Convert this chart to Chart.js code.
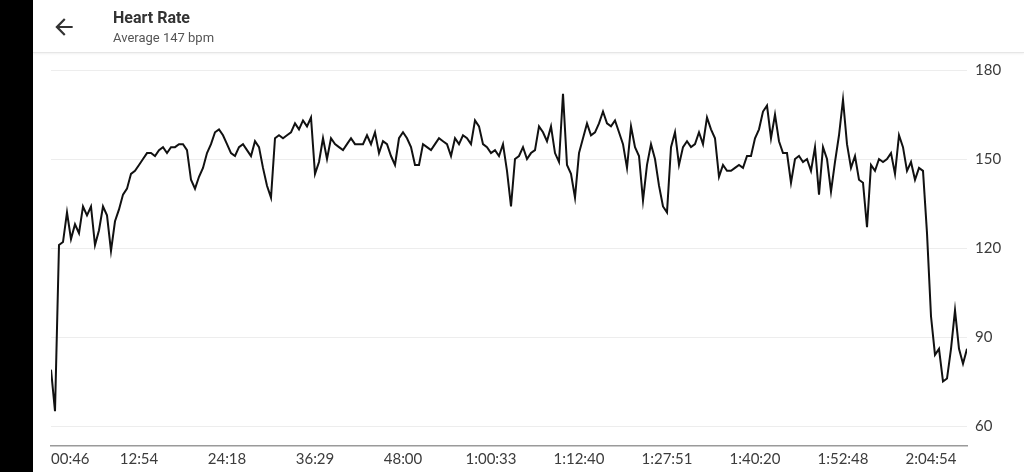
<!DOCTYPE html>
<html>
<head>
<meta charset="utf-8">
<script src="https://cdn.jsdelivr.net/npm/chart.js@4/dist/chart.umd.min.js"></script>
<style>
  html, body { margin: 0; padding: 0; background: #fff; }
  body { width: 1024px; height: 472px; position: relative; overflow: hidden; font-family: Roboto, sans-serif; }
  #barra { position: absolute; left: 0; top: 0; width: 33px; height: 472px; background: #000; z-index: 3; }
  #encabezado { position: absolute; left: 33px; top: 0; width: 991px; height: 52px; background: #fff;
    border-bottom: 1px solid #e6e6e6; box-shadow: 0 1px 2px rgba(0,0,0,0.06); z-index: 2; }
  #flecha { position: absolute; left: 18px; top: 14px; width: 26px; height: 26px; }
  #titulo { position: absolute; left: 80px; top: 8px; font-size: 16px; font-weight: bold; color: #333; }
  #subtitulo { position: absolute; left: 80px; top: 30px; font-size: 13px; color: #555; }
  #contenedor { position: absolute; left: 0; top: 0; width: 1024px; height: 472px; z-index: 1; }
</style>
</head>
<body>
<div id="barra"></div>
<div id="encabezado">
  <svg id="flecha" viewBox="0 0 24 24"><path fill="#333" d="M20 11H7.83l5.590-5.59L12 4l-8 8 8 8 1.41-1.41L7.83 13H20v-2z"/></svg>
  <div id="titulo">Heart Rate</div>
  <div id="subtitulo">Average 147 bpm</div>
</div>
<div id="contenedor"><canvas id="graficoPulso"></canvas></div>
<script>
// etiquetas del eje X (una cada 22 muestras)
var etiquetasTiempo = ['00:46', '12:54', '24:18', '36:29', '48:00', '1:00:33', '1:12:40', '1:27:51', '1:40:20', '1:52:48', '2:04:54'];
var pasoEtiqueta = 22;

// ticks del eje Y
var ticksPulso = [60, 90, 120, 150, 180];

// pulso (bpm), una muestra por paso
var pulso = [
  79, 65, 121, 122, 132, 123, 128, 125, 134, 131,
  134, 121, 126, 134, 131, 119, 129, 133, 138, 140,
  145, 146, 148, 150, 152, 152, 151, 153, 154, 152,
  154, 154, 155, 155, 153, 143, 140, 144, 147, 152,
  155, 159, 160, 158, 155, 152, 151, 154, 155, 153,
  151, 156, 154, 147, 141, 137, 157, 158, 157, 158,
  159, 162, 160, 163, 161, 164, 145, 149, 157, 150,
  157, 155, 154, 153, 155, 157, 155, 155, 155, 158,
  155, 159, 152, 156, 155, 151, 148, 157, 159, 157,
  154, 148, 148, 155, 154, 153, 155, 157, 156, 155,
  151, 157, 155, 158, 157, 155, 163, 161, 155, 154,
  152, 153, 151, 155, 146, 134, 150, 151, 154, 150,
  152, 153, 161, 159, 156, 161, 152, 149, 172, 148,
  145, 137, 152, 157, 162, 158, 159, 162, 166, 162,
  161, 163, 159, 155, 147, 161, 154, 151, 136, 148,
  155, 150, 141, 134, 132, 154, 159, 148, 154, 156,
  154, 155, 159, 155, 164, 160, 157, 144, 148, 146,
  146, 147, 148, 147, 151, 151, 157, 160, 166, 168,
  157, 165, 156, 152, 152, 142, 150, 151, 149, 150,
  146, 154, 138, 154, 150, 139, 149, 158, 170, 155,
  147, 151, 143, 142, 127, 148, 146, 150, 149, 150,
  152, 145, 158, 154, 146, 149, 143, 147, 146, 125,
  97, 84, 86, 75, 76, 86, 99, 86, 81, 86
];

var puntos = pulso.map(function (v, i) { return { x: i, y: v }; });
var ultimo = pulso.length - 1;

var ctx = document.getElementById('graficoPulso').getContext('2d');
var graficoPulso = new Chart(ctx, {
  type: 'line',
  data: {
    datasets: [
      {
        label: 'Heart Rate',
        data: puntos,
        borderColor: '#111111',
        borderWidth: 2,
        pointRadius: 0,
        tension: 0,
        fill: false,
      },
    ],
  },
  options: {
    responsive: true,
    maintainAspectRatio: false,
    animation: false,
    layout: { padding: { left: 51, top: 70, right: 0, bottom: 0 } },
    plugins: {
      legend: { display: false },
      tooltip: { enabled: false },
    },
    scales: {
      x: {
        type: 'linear',
        min: 0,
        max: ultimo,
        grid: { display: false },
        border: { display: true, color: '#9a9a9a', width: 1.5 },
        afterBuildTicks: function (escala) {
          var t = etiquetasTiempo.map(function (e, k) { return { value: k * pasoEtiqueta }; });
          t.push({ value: ultimo });
          escala.ticks = t;
        },
        afterFit: function (escala) { escala.height = 26; },
        ticks: {
          autoSkip: false,
          maxRotation: 0,
          align: 'inner',
          padding: -4,
          color: '#3c3c3c',
          font: { family: 'Lato', size: 15 },
          callback: function (valor) {
            var k = valor / pasoEtiqueta;
            return etiquetasTiempo[k] !== undefined && valor !== ultimo ? etiquetasTiempo[k] : '';
          },
        },
      },
      y: {
        position: 'right',
        min: 53.26,
        max: 180,
        grid: { color: '#ededed', lineWidth: 1, drawTicks: false },
        border: { display: false },
        afterBuildTicks: function (escala) {
          escala.ticks = ticksPulso.map(function (v) { return { value: v }; });
        },
        afterFit: function (escala) { escala.width = 57; },
        ticks: {
          padding: 8,
          color: '#3c3c3c',
          font: { family: 'Lato', size: 15 },
        },
      },
    },
  },
});
</script>
</body>
</html>
